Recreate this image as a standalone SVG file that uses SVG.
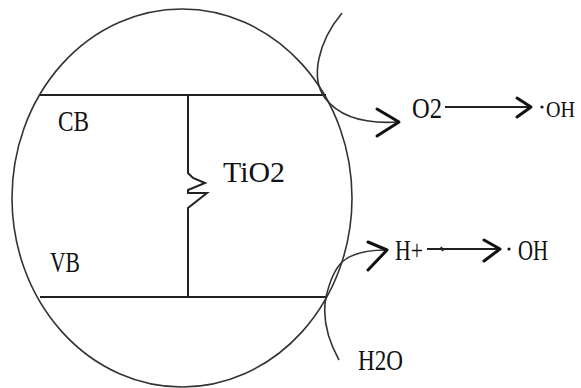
<svg xmlns="http://www.w3.org/2000/svg" width="581" height="388" viewBox="0 0 581 388">
<style>
.ln{fill:none;stroke:#222;stroke-width:2}
.thin{fill:none;stroke:#333;stroke-width:1.6}
.ah{fill:none;stroke:#111;stroke-width:3;stroke-linecap:round;stroke-linejoin:round}
.t{font-family:"Liberation Serif","DejaVu Serif",serif;font-size:29px;fill:#111}
</style>
<rect width="581" height="388" fill="#fff"/>
<g id="particle">
<ellipse cx="182" cy="198" rx="170" ry="189" class="thin"/>
</g>
<g id="bands">
<line x1="40" y1="95" x2="326" y2="95" class="ln"/>
<line x1="40" y1="297" x2="327" y2="297" class="ln"/>
<polyline points="188,95 188,173 193,178 205,183 188,190 188,193 207,193 188,208 188,297" class="ln"/>
</g>
<g id="labels">
<text class="t" x="58" y="131" textLength="31" lengthAdjust="spacingAndGlyphs">CB</text>
<text class="t" x="50" y="272" textLength="30" lengthAdjust="spacingAndGlyphs">VB</text>
<text class="t" x="223" y="182" textLength="62" lengthAdjust="spacingAndGlyphs">TiO2</text>
</g>
<g id="connectors">
<path d="M342,13 C318,42 310,78 325,98 C340,118 365,124 398,122" class="thin"/>
<polyline points="377,109 399,122 377,136" class="ah"/>
<line x1="445" y1="107" x2="530" y2="107" class="ln"/>
<polyline points="517,98 531,107 517,117" class="ah"/>
<path d="M339,360 C328,340 322,318 326,297 C330,280 336,268 342,262 C352,253 368,250 386,250" class="thin"/>
<polyline points="368,242 387,250 368,270" class="ah"/>
<line x1="427" y1="249" x2="500" y2="249" class="ln"/>
<line x1="441" y1="247" x2="443" y2="251" class="ln"/>
<polyline points="484,240 500,249 484,261" class="ah"/>
</g>
<g id="products">
<text class="t" x="412" y="118" textLength="30" lengthAdjust="spacingAndGlyphs">O2</text>
<circle cx="542" cy="107" r="1.6" fill="#111"/>
<text class="t" x="546" y="117" style="font-size:23px" textLength="29" lengthAdjust="spacingAndGlyphs">OH</text>
<text class="t" x="395" y="260" textLength="28" lengthAdjust="spacingAndGlyphs">H+</text>
<circle cx="509" cy="249" r="1.6" fill="#111"/>
<text class="t" x="518" y="260" textLength="30" lengthAdjust="spacingAndGlyphs">OH</text>
<text class="t" x="358" y="370" textLength="45" lengthAdjust="spacingAndGlyphs">H2O</text>
</g>
</svg>
